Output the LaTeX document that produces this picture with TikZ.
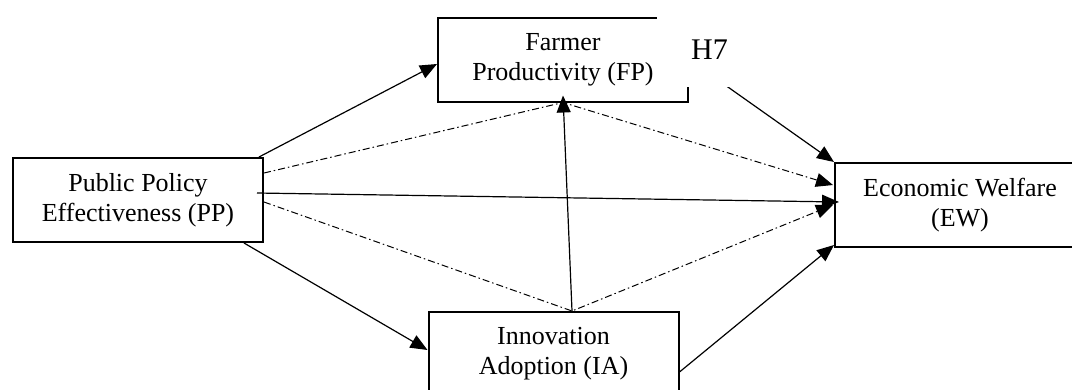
\documentclass[tikz,border=0pt]{standalone}
\usepackage{fontspec}
\setmainfont{Liberation Serif}
\usetikzlibrary{arrows.meta}
\tikzset{
  boxnode/.style={draw, line width=2pt, minimum width=250pt, minimum height=84pt,
    align=center, inner sep=0pt, font=\fontsize{26}{30}\selectfont},
  arr/.style={line width=1.2pt, -{Triangle[length=17pt,width=14pt]}},
  dashdot/.style={line width=1pt, dash pattern=on 7pt off 3pt on 1.5pt off 3pt},
  dasharr/.style={dashdot, -{Triangle[length=17pt,width=14pt]}}
}
\begin{document}
\begin{tikzpicture}[x=1pt,y=-1pt]
\clip (0,0) rectangle (1072,389);
\fill[white] (0,0) rectangle (1072,389);
% boxes
\node[boxnode] (pp) at (138,200) {Public Policy\\Effectiveness (PP)};
\node[boxnode] (fp) at (563,59.5) {Farmer\\Productivity (FP)};
\node[boxnode] (ia) at (553.5,354) {Innovation\\Adoption (IA)};
\node[boxnode] (ew) at (960,205) {Economic Welfare\\(EW)};
% connection points
\coordinate (fpBot) at (fp.south);
\coordinate (iaTop) at ([xshift=18.5pt]ia.north);
% direct paths
\draw[arr] ([xshift=-5pt]pp.north east) -- ([yshift=-4.5pt]fp.west);
\draw[arr] ([xshift=-7pt,yshift=7pt]pp.east) -- ([xshift=5pt,yshift=3pt]ew.west);
\draw[arr] ([xshift=-20pt]pp.south east) -- ([yshift=4pt]ia.west);
\draw[arr] ([yshift=-18pt]ia.east) -- ([yshift=3pt]ew.south west);
\draw[arr] (iaTop) -- ([yshift=7pt]fpBot);
\draw[arr] (fp.east) -- (ew.north west);
% mediated paths
\draw[dasharr] ([yshift=27pt]pp.east) -- (fpBot) -- ([xshift=-1pt,yshift=20pt]ew.west);
\draw[dasharr] ([yshift=-2pt]pp.east) -- (iaTop) -- ([xshift=-1pt]ew.west);
% H7 label
\fill[white] (657,0) rectangle (735,87);
\node[font=\fontsize{30}{34}\selectfont, anchor=base, inner sep=0pt] (h7) at (709.5,59) {H7};
\end{tikzpicture}
\end{document}
